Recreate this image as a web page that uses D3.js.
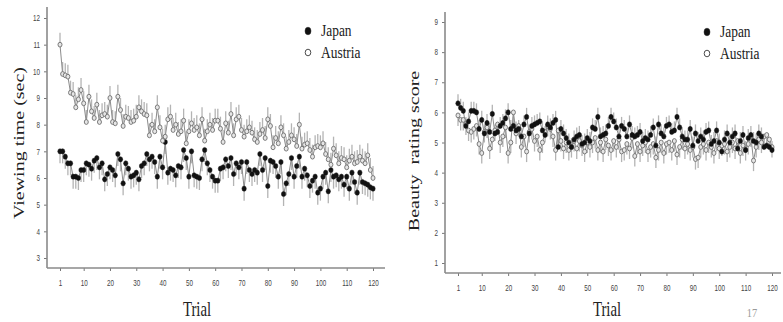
<!DOCTYPE html>
<html>
<head>
<meta charset="utf-8">
<script src="https://cdn.jsdelivr.net/npm/d3@7/dist/d3.min.js"></script>
<style>
  body { margin: 0; background: #fff; }
  svg { display: block; }
</style>
</head>
<body>
<div id="chart"></div>
<script>
// trial numbers on the x axis
const trials = d3.range(1, 121);
const trialTicks = [1, 10, 20, 30, 40, 50, 60, 70, 80, 90, 100, 110, 120];
const viewTicks = [3, 4, 5, 6, 7, 8, 9, 10, 11, 12];
const beautyTicks = [1, 2, 3, 4, 5, 6, 7, 8, 9];

// viewing time (sec)
const viewJapan = [
  7.0, 7.0, 6.8, 6.55, 6.55, 6.05, 6.05, 6.0, 6.3, 6.3,
  6.55, 6.5, 6.35, 6.65, 6.75, 6.4, 6.55, 5.95, 6.15, 6.4,
  6.3, 6.1, 6.9, 6.7, 5.8, 6.55, 6.35, 6.05, 6.1, 6.2,
  5.95, 6.45, 6.55, 6.9, 6.7, 6.8, 6.6, 6.05, 6.8, 6.4,
  7.35, 6.2, 6.35, 6.3, 6.1, 6.45, 6.4, 7.05, 6.75, 6.05,
  7.0, 6.1, 6.05, 6.0, 6.7, 7.05, 6.55, 6.3, 6.05, 5.9,
  5.9, 6.35, 6.4, 6.7, 6.45, 6.75, 6.15, 6.55, 6.4, 6.6,
  5.6, 6.6, 6.3, 6.15, 6.3, 6.2, 6.9, 6.3, 6.75, 5.7,
  6.65, 6.6, 6.45, 6.05, 6.6, 5.4, 5.8, 6.15, 6.75, 6.05,
  6.45, 6.8, 6.05, 6.35, 6.1, 5.7, 5.9, 6.05, 5.45, 5.6,
  6.05, 6.2, 5.5, 6.3, 6.05, 6.1, 5.95, 6.05, 5.75, 6.05,
  5.6, 6.2, 5.85, 5.45, 6.2, 5.85, 5.8, 5.75, 5.65, 5.6
];
const viewAustria = [
  11.0, 9.9, 9.85, 9.8, 9.2, 9.15, 8.65, 8.95, 9.3, 8.8,
  8.1, 9.05, 8.5, 8.25, 8.75, 8.1, 8.35, 8.4, 8.3, 9.0,
  8.1, 8.05, 9.05, 8.55, 7.95, 8.3, 8.25, 8.1, 8.15, 8.3,
  8.65, 8.5, 8.4, 8.35, 7.6, 8.0, 7.75, 8.65, 7.9, 7.4,
  7.55, 8.2, 8.3, 7.8, 8.0, 7.65, 7.75, 8.15, 7.3, 7.75,
  8.05, 7.8, 7.9, 7.6, 8.2, 7.4, 7.75, 8.0, 7.8, 8.15,
  8.15, 7.85, 7.35, 8.05, 7.7, 8.4, 7.6, 8.2, 8.3, 7.8,
  7.55, 7.75, 7.9, 7.7, 7.45, 7.35, 7.65, 7.8, 7.5, 8.2,
  7.95, 7.15, 7.5, 7.3, 7.9, 7.6, 7.1, 7.35, 7.6, 7.45,
  7.2, 8.0, 7.1, 7.25, 7.3, 7.05, 6.8, 7.15, 7.2, 7.15,
  7.3, 6.9, 6.7, 6.5, 7.1, 6.85, 6.55, 6.75, 6.7, 6.4,
  6.65, 6.8, 6.55, 6.6, 6.8, 6.65, 6.55, 6.85, 6.3, 6.0
];

// beauty rating score
const beautyJapan = [
  6.3, 6.15, 6.05, 5.55, 5.7, 6.05, 6.05, 6.0, 5.45, 5.75,
  5.3, 5.65, 5.35, 5.95, 5.3, 5.35, 5.55, 5.65, 5.8, 6.0,
  5.45, 5.55, 5.4, 5.45, 5.2, 5.6, 5.85, 5.3, 5.55, 5.6,
  5.65, 5.7, 5.4, 5.25, 5.6, 5.5, 5.65, 5.75, 4.85, 5.45,
  5.3, 5.15, 5.0, 4.85, 5.1, 5.2, 5.25, 4.95, 5.0, 5.15,
  5.05, 5.5, 5.45, 5.85, 5.2, 5.25, 5.3, 5.55, 5.85, 5.7,
  5.5, 5.2, 5.55, 5.45, 5.2, 5.6, 5.25, 5.2, 5.25, 5.35,
  5.05, 5.15, 5.1, 5.25, 5.5, 4.9, 5.6, 5.3, 5.2, 5.55,
  5.6, 5.35, 5.4, 5.85, 5.5, 5.2, 5.1, 5.1, 5.45, 4.9,
  5.3, 5.05, 5.2, 5.1, 5.35, 5.4, 4.95, 5.05, 5.4, 5.0,
  4.7, 5.1, 5.3, 5.0, 5.2, 5.3, 4.8, 5.05, 5.25, 4.75,
  5.15, 5.25, 5.05, 5.0, 5.3, 5.2, 4.85, 4.9, 4.85, 4.75
];
const beautyAustria = [
  5.9, 5.75, 5.75, 5.6, 5.4, 5.35, 5.45, 5.55, 4.95, 4.65,
  5.35, 5.5, 4.8, 5.1, 5.4, 5.6, 5.0, 5.2, 5.5, 4.65,
  5.0, 6.0, 5.3, 5.55, 4.85, 5.2, 4.7, 5.35, 5.45, 5.05,
  5.2, 4.75, 5.0, 5.35, 5.55, 5.45, 5.2, 4.75, 5.4, 5.05,
  4.8, 5.0, 4.75, 4.85, 5.05, 4.8, 5.05, 4.9, 4.7, 5.0,
  4.85, 5.0, 5.15, 4.75, 5.0, 4.7, 5.1, 4.9, 4.75, 5.05,
  4.85, 5.1, 4.7, 4.75, 4.95, 4.8, 5.15, 4.55, 4.95, 4.7,
  4.9, 5.0, 4.7, 4.85, 4.95, 4.5, 4.75, 5.0, 4.65, 4.95,
  5.0, 4.75, 5.05, 4.6, 4.85, 5.1, 4.8, 4.95, 4.75, 4.85,
  4.45, 4.5, 4.85, 4.95, 4.75, 5.0, 4.85, 4.65, 5.05, 4.8,
  4.9, 4.95, 4.7, 4.85, 5.0, 4.8, 5.05, 4.65, 4.9, 4.75,
  4.95, 5.2, 4.4, 4.85, 5.1, 5.0, 5.2, 5.25, 5.1, 4.85
];

// approximate standard error bar lengths
const errView = { Japan: 0.45, Austria: 0.45 };
const errBeauty = { Japan: 0.3, Austria: 0.35 };

const width = 783, height = 322;
const svg = d3.select("#chart").append("svg")
  .attr("width", width).attr("height", height);

const serif = "'Liberation Serif', 'Times New Roman', serif";
const sans = "'Liberation Sans', Arial, sans-serif";
const squeeze = 0.74;   // the original figure is horizontally compressed

const panels = [
  {
    xRange: [60, 373], yDomain: [3, 12], yRange: [258, 18], yTicks: viewTicks,
    axisX: 47, axisTop: 7, axisY: 268, axisRight: 385,
    title: "Viewing time (sec)", titleX: 19, titleY: 143,
    trialX: 197, legendX: 308, legendY: 31,
    series: [
      { name: "Japan", values: viewJapan, err: errView.Japan, dir: -1, filled: true },
      { name: "Austria", values: viewAustria, err: errView.Austria, dir: 1, filled: false }
    ]
  },
  {
    xRange: [458, 772], yDomain: [1, 9], yRange: [263, 22], yTicks: beautyTicks,
    axisX: 445, axisTop: 12, axisY: 273, axisRight: 781,
    title: "Beauty\u00a0\u00a0rating score", titleX: 414, titleY: 151,
    trialX: 607, legendX: 707, legendY: 32,
    series: [
      { name: "Austria", values: beautyAustria, err: errBeauty.Austria, dir: -1, filled: false },
      { name: "Japan", values: beautyJapan, err: errBeauty.Japan, dir: 1, filled: true }
    ]
  }
];

panels.forEach(p => {
  const x = d3.scaleLinear().domain([1, 120]).range(p.xRange);
  const y = d3.scaleLinear().domain(p.yDomain).range(p.yRange);
  const g = svg.append("g");

  // y axis
  const yAx = g.append("g")
    .attr("transform", `translate(${p.axisX},0)`)
    .call(d3.axisLeft(y).tickValues(p.yTicks).tickSize(3).tickSizeOuter(0).tickFormat(d3.format("d")));
  yAx.select(".domain").remove();
  yAx.selectAll(".tick line").attr("stroke", "#777").attr("stroke-width", 1);
  yAx.selectAll(".tick text")
    .attr("x", -7 / squeeze)
    .attr("transform", `scale(${squeeze},1)`)
    .attr("fill", "#444").style("font-family", sans).style("font-size", "8.5px");

  // x axis
  const xAx = g.append("g")
    .attr("transform", `translate(0,${p.axisY})`)
    .call(d3.axisBottom(x).tickValues(trialTicks).tickSize(3).tickSizeOuter(0).tickPadding(9));
  xAx.select(".domain").remove();
  xAx.selectAll(".tick line").attr("stroke", "#777").attr("stroke-width", 1);
  xAx.selectAll(".tick text")
    .attr("transform", `scale(${squeeze},1)`)
    .attr("fill", "#444").style("font-family", sans).style("font-size", "8.5px");

  // axis lines
  g.append("line").attr("x1", p.axisX).attr("x2", p.axisX)
    .attr("y1", p.axisTop).attr("y2", p.axisY)
    .attr("stroke", "#8a8a8a").attr("stroke-width", 1.6);
  g.append("line").attr("x1", p.axisX).attr("x2", p.axisRight)
    .attr("y1", p.axisY).attr("y2", p.axisY)
    .attr("stroke", "#8a8a8a").attr("stroke-width", 1.6);

  // error bars
  p.series.forEach(s => {
    g.append("g").selectAll("line")
      .data(s.values)
      .join("line")
      .attr("x1", (d, i) => x(trials[i])).attr("x2", (d, i) => x(trials[i]))
      .attr("y1", d => y(d)).attr("y2", d => y(d + s.dir * s.err))
      .attr("stroke", "#b4b4b4").attr("stroke-width", 1.3);
  });

  // connecting lines
  const line = d3.line().x((d, i) => x(trials[i])).y(d => y(d));
  p.series.forEach(s => {
    g.append("path").datum(s.values)
      .attr("d", line)
      .attr("fill", "none")
      .attr("stroke", "#8c8c8c").attr("stroke-width", 1);
  });

  // markers
  p.series.forEach(s => {
    g.append("g").selectAll("ellipse")
      .data(s.values)
      .join("ellipse")
      .attr("cx", (d, i) => x(trials[i])).attr("cy", d => y(d))
      .attr("rx", s.filled ? 2.2 : 2.0).attr("ry", s.filled ? 2.6 : 2.4)
      .attr("fill", s.filled ? "#111" : "#e6e6e6")
      .attr("stroke", s.filled ? "#111" : "#6e6e6e")
      .attr("stroke-width", s.filled ? 0.5 : 0.9);
  });

  // axis titles
  g.append("text")
    .attr("transform", `translate(${p.titleX},${p.titleY}) rotate(-90) scale(1,${squeeze})`)
    .attr("text-anchor", "middle").attr("dominant-baseline", "central")
    .style("font-family", serif).style("font-size", "20px").attr("fill", "#222")
    .text(p.title);
  g.append("text")
    .attr("transform", `translate(${p.trialX},316) scale(${squeeze},1)`)
    .attr("text-anchor", "middle")
    .style("font-family", serif).style("font-size", "20px").attr("fill", "#222")
    .text("Trial");

  // legend
  const leg = [
    { name: "Japan", filled: true },
    { name: "Austria", filled: false }
  ];
  leg.forEach((l, i) => {
    const ly = p.legendY + i * 21.5;
    g.append("ellipse")
      .attr("cx", p.legendX).attr("cy", ly)
      .attr("rx", l.filled ? 3 : 2.8).attr("ry", l.filled ? 3.8 : 3.3)
      .attr("fill", l.filled ? "#111" : "#fff")
      .attr("stroke", "#222").attr("stroke-width", l.filled ? 0.5 : 0.8);
    g.append("text")
      .attr("transform", `translate(${p.legendX + 13},${ly + 5}) scale(0.84,1)`)
      .style("font-family", serif).style("font-size", "16px").attr("fill", "#222")
      .text(l.name);
  });
});

// slide page number
svg.append("text")
  .attr("transform", "translate(752,317) scale(0.8,1)")
  .attr("text-anchor", "middle")
  .style("font-family", serif).style("font-size", "13px").attr("fill", "#9a9a9a")
  .text("17");
</script>
</body>
</html>
